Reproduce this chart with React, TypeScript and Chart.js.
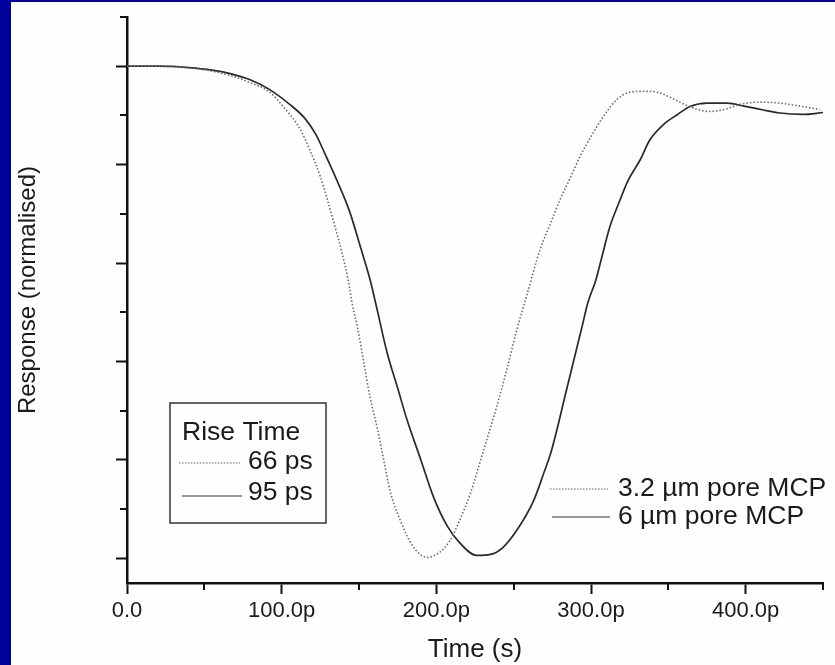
import React, { useEffect, useRef } from "react";
import { Chart, registerables } from "chart.js";

Chart.register(...registerables);

// ---- data (time in ps, normalised response) ----
const solidTimes = [0, 20, 40, 55, 68, 80, 92, 105, 115, 122, 128, 136, 144, 151, 157, 162, 168, 175, 181, 190, 198, 207, 215, 226, 235, 243, 252, 263, 270, 274, 284, 294, 298, 303, 307, 312, 318, 324, 332, 338, 347, 356, 364, 375, 388, 399, 410, 422, 437, 450];
const solidValues = [1.0, 1.0, 0.997, 0.992, 0.984, 0.972, 0.953, 0.923, 0.894, 0.862, 0.822, 0.766, 0.704, 0.632, 0.568, 0.502, 0.42, 0.346, 0.282, 0.2, 0.126, 0.066, 0.032, 0.006, 0.008, 0.022, 0.057, 0.118, 0.178, 0.214, 0.34, 0.468, 0.52, 0.564, 0.612, 0.672, 0.722, 0.768, 0.811, 0.85, 0.882, 0.902, 0.918, 0.925, 0.925, 0.919, 0.912, 0.905, 0.902, 0.906];

const dottedTimes = [0, 20, 40, 55, 68, 80, 92, 101, 112, 118, 125, 129, 135, 139, 143, 146, 149, 153, 157, 162, 166, 170, 177, 185, 194, 202, 209, 215, 222, 230, 239, 246, 252, 259, 267, 274, 280, 287, 293, 300, 308, 317, 325, 334, 343, 351, 360, 369, 377, 386, 397, 410, 422, 435, 448];
const dottedValues = [1.0, 1.0, 0.997, 0.99, 0.98, 0.966, 0.948, 0.918, 0.872, 0.831, 0.776, 0.735, 0.668, 0.621, 0.566, 0.511, 0.47, 0.4, 0.33, 0.262, 0.2, 0.138, 0.075, 0.024, 0.002, 0.012, 0.037, 0.077, 0.132, 0.214, 0.308, 0.389, 0.464, 0.54, 0.627, 0.682, 0.729, 0.776, 0.817, 0.857, 0.898, 0.933, 0.947, 0.949, 0.947, 0.937, 0.923, 0.912, 0.908, 0.912, 0.923, 0.927, 0.925, 0.919, 0.912];

const xMajorTicks = [0, 100, 200, 300, 400];
const xTickLabels = ["0.0", "100.0p", "200.0p", "300.0p", "400.0p"];
const xMinorTicks = [50, 150, 250, 350, 450];
const yMajorTicks = [0, 0.2, 0.4, 0.6, 0.8, 1.0];
const yMinorTicks = [0.1, 0.3, 0.5, 0.7, 0.9, 1.1];

const seriesNames = ["3.2 \u00B5m pore MCP", "6 \u00B5m pore MCP"];
const riseTimeTitle = "Rise Time";
const riseTimeLabels = ["66 ps", "95 ps"];
const xTitle = "Time (s)";
const yTitle = "Response (normalised)";

const FONT = 'Arial, "Liberation Sans", sans-serif';
const INK = "#1a1a1a";
const AXIS = "#111111";
const DOT_COLOR = "#6a6a6a";
const SOLID_COLOR = "#2a2a2a";

const overlayPlugin = {
  id: "overlay",
  afterDraw(chart: any) {
    const ctx = chart.ctx;
    const xs = chart.scales.x;
    const ys = chart.scales.y;
    const area = chart.chartArea;
    ctx.save();
    // minor ticks
    ctx.strokeStyle = AXIS;
    ctx.lineWidth = 2;
    xMinorTicks.forEach((v) => {
      const px = Math.round(xs.getPixelForValue(v));
      ctx.beginPath();
      ctx.moveTo(px, area.bottom);
      ctx.lineTo(px, area.bottom + 7);
      ctx.stroke();
    });
    yMinorTicks.forEach((v) => {
      const py = Math.round(ys.getPixelForValue(v));
      ctx.beginPath();
      ctx.moveTo(area.left, py);
      ctx.lineTo(area.left - 7, py);
      ctx.stroke();
    });

    // y axis title
    ctx.save();
    ctx.translate(17, 288);
    ctx.rotate(-Math.PI / 2);
    ctx.fillStyle = INK;
    ctx.font = `24px ${FONT}`;
    ctx.textAlign = "center";
    ctx.textBaseline = "middle";
    ctx.fillText(yTitle, 0, 0);
    ctx.restore();

    // Rise time box
    ctx.strokeStyle = "#333";
    ctx.lineWidth = 1.5;
    ctx.strokeRect(159, 401, 156, 120);
    ctx.fillStyle = INK;
    ctx.font = `26.5px ${FONT}`;
    ctx.textBaseline = "middle";
    ctx.textAlign = "left";
    ctx.fillText(riseTimeTitle, 171, 431);
    ctx.fillText(riseTimeLabels[0], 237, 460);
    ctx.fillText(riseTimeLabels[1], 237, 491);
    // samples in box
    ctx.lineWidth = 1.5;
    ctx.strokeStyle = "#9a9a9a";
    ctx.setLineDash([1.5, 1.5]);
    ctx.beginPath();
    ctx.moveTo(168, 461);
    ctx.lineTo(229, 461);
    ctx.stroke();
    ctx.setLineDash([]);
    ctx.strokeStyle = "#333";
    ctx.lineWidth = 1.2;
    ctx.beginPath();
    ctx.moveTo(171, 494);
    ctx.lineTo(231, 494);
    ctx.stroke();

    // series legend
    ctx.lineWidth = 1.5;
    ctx.strokeStyle = "#999";
    ctx.setLineDash([1.5, 1.5]);
    ctx.beginPath();
    ctx.moveTo(539, 487);
    ctx.lineTo(597, 487);
    ctx.stroke();
    ctx.setLineDash([]);
    ctx.strokeStyle = "#333";
    ctx.lineWidth = 1.2;
    ctx.beginPath();
    ctx.moveTo(541, 515);
    ctx.lineTo(599, 515);
    ctx.stroke();
    ctx.fillStyle = INK;
    ctx.fillText(seriesNames[0], 607, 487);
    ctx.fillText(seriesNames[1], 607, 515);
    ctx.restore();
  },
};

export default function App() {
  const ref = useRef<HTMLCanvasElement | null>(null);

  useEffect(() => {
    if (!ref.current) return;
    const chart = new Chart(ref.current, {
      type: "line",
      data: {
        datasets: [
          {
            label: seriesNames[0],
            data: dottedTimes.map((t, i) => ({ x: t, y: dottedValues[i] })),
            borderColor: DOT_COLOR,
            borderWidth: 1.6,
            borderDash: [1.5, 2],
            pointRadius: 0,
            cubicInterpolationMode: "monotone",
            fill: false,
          },
          {
            label: seriesNames[1],
            data: solidTimes.map((t, i) => ({ x: t, y: solidValues[i] })),
            borderColor: SOLID_COLOR,
            borderWidth: 1.7,
            pointRadius: 0,
            cubicInterpolationMode: "monotone",
            fill: false,
          },
        ],
      },
      options: {
        animation: false,
        responsive: false,
        layout: { padding: { top: 15, right: 12, left: 0, bottom: 0 } },
        plugins: { legend: { display: false }, tooltip: { enabled: false } },
        scales: {
          x: {
            type: "linear",
            position: "bottom",
            min: 0,
            max: 450,
            afterBuildTicks: (s: any) => {
              s.ticks = xMajorTicks.map((v) => ({ value: v }));
            },
            afterFit: (s: any) => {
              s.height = 82;
            },
            ticks: {
              callback: (v: any) => {
                const i = xMajorTicks.indexOf(Number(v));
                return i >= 0 ? xTickLabels[i] : "";
              },
              font: { family: FONT, size: 22 },
              color: INK,
              padding: 4,
              maxRotation: 0,
              autoSkip: false,
            },
            grid: { drawOnChartArea: false, drawTicks: true, tickLength: 11, tickWidth: 2, tickColor: AXIS },
            border: { display: true, color: AXIS, width: 2.5 },
            title: {
              display: true,
              text: xTitle,
              color: INK,
              font: { family: FONT, size: 26 },
              padding: { top: 0, bottom: 0 },
            },
          },
          y: {
            type: "linear",
            min: -0.05,
            max: 1.1,
            afterBuildTicks: (s: any) => {
              s.ticks = yMajorTicks.map((v) => ({ value: v }));
            },
            afterFit: (s: any) => {
              s.width = 116;
            },
            ticks: { display: false },
            grid: { drawOnChartArea: false, drawTicks: true, tickLength: 11, tickWidth: 2, tickColor: AXIS },
            border: { display: true, color: AXIS, width: 2.5 },
            title: { display: false },
          },
        },
      },
      plugins: [overlayPlugin],
    } as any);
    return () => chart.destroy();
  }, []);

  return (
    <div
      style={{
        position: "absolute",
        left: 0,
        top: 0,
        width: 824,
        height: 663,
        borderLeft: "11px solid #00009a",
        borderTop: "2px solid #00009a",
        background: "#fefefe",
      }}
    >
      <canvas ref={ref} width={824} height={663} style={{ display: "block" }} />
    </div>
  );
}
